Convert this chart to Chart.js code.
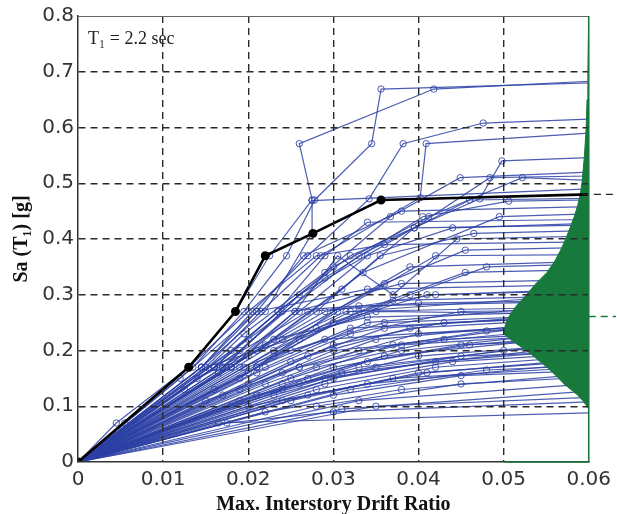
<!DOCTYPE html>
<html>
<head>
<meta charset="utf-8">
<title>IDA curves</title>
<script src="https://cdn.jsdelivr.net/npm/chart.js@4.4.0/dist/chart.umd.min.js"></script>
<style>
  html, body { margin: 0; padding: 0; background: #fff; }
</style>
</head>
<body>
<canvas id="idaChart" width="617" height="514"></canvas>
<script>
// ---------------- Data ----------------
const driftTicks = [0, 0.01, 0.02, 0.03, 0.04, 0.05, 0.06];
const saTicks = [0, 0.1, 0.2, 0.3, 0.4, 0.5, 0.6, 0.7, 0.8];
const noteText = "T\u2081 = 2.2 sec";

// IDA curves, [drift, Sa] per point (last point = flatline at the right edge)
const idaCurves = [
  [[0,0],[0.0045,0.07],[0.013,0.17],[0.0185,0.27],[0.0225,0.37],[0.0275,0.47],[0.026,0.571],[0.0418,0.669],[0.06,0.683]],
  [[0,0],[0.0055,0.07],[0.0135,0.17],[0.0195,0.27],[0.0245,0.37],[0.0278,0.47],[0.0345,0.571],[0.0356,0.669],[0.06,0.68]],
  [[0,0],[0.0145,0.17],[0.0205,0.27],[0.027,0.37],[0.0342,0.472],[0.0382,0.571],[0.0476,0.608],[0.06,0.615]],
  [[0,0],[0.015,0.17],[0.0215,0.27],[0.0285,0.37],[0.0402,0.474],[0.0409,0.571],[0.06,0.59]],
  [[0,0],[0.016,0.17],[0.0235,0.27],[0.032,0.37],[0.0472,0.472],[0.0498,0.54],[0.06,0.546]],
  [[0,0],[0.0125,0.13],[0.0195,0.23],[0.029,0.34],[0.0367,0.44],[0.0449,0.51],[0.06,0.52]],
  [[0,0],[0.0165,0.16],[0.026,0.3],[0.0395,0.42],[0.0484,0.51],[0.06,0.513]],
  [[0,0],[0.018,0.2],[0.03,0.35],[0.0412,0.44],[0.0522,0.51],[0.06,0.505]],
  [[0,0],[0.02,0.22],[0.033,0.37],[0.046,0.47],[0.06,0.473]],
  [[0,0],[0.019,0.2],[0.029,0.33],[0.0405,0.44],[0.0506,0.468],[0.06,0.47]],
  [[0,0],[0.0145,0.17],[0.022,0.27],[0.0275,0.41],[0.0275,0.469],[0.06,0.49]],
  [[0,0],[0.021,0.2],[0.0335,0.34],[0.0495,0.44],[0.06,0.445]],
  [[0,0],[0.022,0.21],[0.031,0.31],[0.0395,0.42],[0.06,0.425]],
  [[0,0],[0.018,0.17],[0.028,0.27],[0.0355,0.37],[0.0465,0.41],[0.06,0.415]],
  [[0,0],[0.024,0.22],[0.036,0.32],[0.0455,0.38],[0.06,0.385]],
  [[0,0],[0.0195,0.17],[0.0305,0.27],[0.042,0.37],[0.06,0.372]],
  [[0,0],[0.026,0.22],[0.039,0.3],[0.048,0.35],[0.06,0.355]],
  [[0,0],[0.023,0.19],[0.033,0.27],[0.0455,0.34],[0.06,0.345]],
  [[0,0],[0.0175,0.17],[0.0255,0.27],[0.0305,0.37],[0.037,0.3],[0.0445,0.4],[0.06,0.405]],
  [[0,0],[0.016,0.17],[0.0235,0.27],[0.029,0.37],[0.034,0.43],[0.06,0.435]],
  [[0,0],[0.0145,0.17],[0.021,0.27],[0.0265,0.37],[0.038,0.45],[0.06,0.458]],
  [[0,0],[0.018,0.17],[0.0255,0.27],[0.038,0.32],[0.06,0.327]],
  [[0,0],[0.012,0.15],[0.021,0.27],[0.034,0.31],[0.06,0.318]],
  [[0,0],[0.02,0.16],[0.03,0.25],[0.041,0.3],[0.06,0.307]],
  [[0,0],[0.019,0.15],[0.028,0.24],[0.037,0.29],[0.06,0.298]],
  [[0,0],[0.016,0.17],[0.027,0.27],[0.04,0.285],[0.06,0.29]],
  [[0,0],[0.022,0.17],[0.034,0.25],[0.06,0.283]],
  [[0,0],[0.017,0.17],[0.0315,0.27],[0.06,0.278]],
  [[0,0],[0.021,0.16],[0.032,0.23],[0.045,0.27],[0.06,0.273]],
  [[0,0],[0.025,0.18],[0.036,0.24],[0.06,0.268]],
  [[0,0],[0.015,0.17],[0.035,0.27],[0.06,0.265]],
  [[0,0],[0.02,0.14],[0.03,0.21],[0.043,0.25],[0.06,0.26]],
  [[0,0],[0.024,0.16],[0.035,0.22],[0.06,0.255]],
  [[0,0],[0.019,0.17],[0.029,0.22],[0.06,0.25]],
  [[0,0],[0.026,0.17],[0.04,0.23],[0.06,0.245]],
  [[0,0],[0.022,0.14],[0.033,0.2],[0.048,0.235],[0.06,0.24]],
  [[0,0],[0.028,0.17],[0.043,0.22],[0.06,0.233]],
  [[0,0],[0.024,0.14],[0.036,0.19],[0.06,0.227]],
  [[0,0],[0.03,0.17],[0.045,0.21],[0.06,0.22]],
  [[0,0],[0.026,0.14],[0.04,0.19],[0.06,0.213]],
  [[0,0],[0.023,0.12],[0.035,0.17],[0.05,0.2],[0.06,0.206]],
  [[0,0],[0.03,0.15],[0.045,0.19],[0.06,0.198]],
  [[0,0],[0.028,0.13],[0.042,0.17],[0.06,0.19]],
  [[0,0],[0.025,0.11],[0.04,0.16],[0.06,0.182]],
  [[0,0],[0.032,0.13],[0.048,0.165],[0.06,0.173]],
  [[0,0],[0.03,0.12],[0.045,0.155],[0.06,0.164]],
  [[0,0],[0.028,0.1],[0.045,0.14],[0.06,0.152]],
  [[0,0],[0.033,0.11],[0.06,0.14]],
  [[0,0],[0.031,0.095],[0.06,0.127]],
  [[0,0],[0.035,0.1],[0.06,0.116]],
  [[0,0],[0.0175,0.07],[0.03,0.09],[0.06,0.108]],
  [[0,0],[0.0165,0.07],[0.06,0.088]],
  [[0,0],[0.024,0.13],[0.034,0.18],[0.046,0.21],[0.06,0.228]],
  [[0,0],[0.027,0.15],[0.038,0.2],[0.06,0.236]],
  [[0,0],[0.021,0.17],[0.032,0.24],[0.06,0.262]],
  [[0,0],[0.017,0.12],[0.027,0.19],[0.039,0.24],[0.06,0.258]],
  [[0,0],[0.019,0.13],[0.03,0.2],[0.06,0.243]],
  [[0,0],[0.015,0.11],[0.026,0.17],[0.038,0.21],[0.06,0.231]],
  [[0,0],[0.021,0.12],[0.033,0.17],[0.06,0.216]],
  [[0,0],[0.018,0.1],[0.029,0.15],[0.042,0.18],[0.06,0.202]],
  [[0,0],[0.02,0.1],[0.034,0.14],[0.06,0.178]],
  [[0,0],[0.022,0.09],[0.038,0.13],[0.06,0.158]],
  [[0,0],[0.017,0.17],[0.024,0.27],[0.033,0.28],[0.06,0.288]],
  [[0,0],[0.014,0.15],[0.023,0.22],[0.034,0.26],[0.06,0.27]],
  [[0,0],[0.02,0.19],[0.029,0.27],[0.042,0.3],[0.06,0.31]],
  [[0,0],[0.023,0.2],[0.032,0.27],[0.06,0.3]],
  [[0,0],[0.025,0.15],[0.037,0.21],[0.052,0.24],[0.06,0.242]],
  [[0,0],[0.027,0.12],[0.041,0.16],[0.06,0.185]],
  [[0,0],[0.029,0.14],[0.044,0.18],[0.06,0.195]],
  [[0,0],[0.019,0.11],[0.031,0.16],[0.06,0.21]],
  [[0,0],[0.016,0.13],[0.025,0.2],[0.036,0.25],[0.06,0.265]],
  [[0,0],[0.024,0.11],[0.037,0.15],[0.06,0.17]],
  [[0,0],[0.013,0.17],[0.02,0.27],[0.028,0.37],[0.036,0.39],[0.06,0.395]],
  [[0,0],[0.018,0.17],[0.026,0.27],[0.034,0.37],[0.044,0.42],[0.06,0.428]],
  [[0,0],[0.021,0.17],[0.03,0.27],[0.039,0.35],[0.06,0.36]],
];

// median IDA curve (black)
const medianDrift = [0, 0.013, 0.0185, 0.022, 0.0276, 0.0356, 0.06];
const medianSa = [0, 0.17, 0.27, 0.37, 0.41, 0.47, 0.48];

// collapse capacity distribution, drawn sideways from the right edge
const pdfSa = [0.095, 0.1, 0.11, 0.12, 0.13, 0.14, 0.15, 0.16, 0.17, 0.18, 0.19, 0.2, 0.21, 0.22, 0.23, 0.24,
  0.25, 0.26, 0.27, 0.28, 0.29, 0.3, 0.32, 0.34, 0.36, 0.38, 0.4, 0.42, 0.44, 0.46, 0.48, 0.5, 0.55, 0.6,
  0.65, 0.7, 0.8];
const pdfDrift = [0.06, 0.0598, 0.0593, 0.0587, 0.0579, 0.0571, 0.0565, 0.0558, 0.0551, 0.0543, 0.0535, 0.0527,
  0.0517, 0.0508, 0.05, 0.0501, 0.0503, 0.0506, 0.051, 0.0515, 0.0521, 0.0527, 0.0538, 0.0551, 0.056, 0.0567,
  0.0573, 0.0578, 0.0583, 0.0587, 0.059, 0.0592, 0.0595, 0.0597, 0.0598, 0.0599, 0.06];
const pdfEdge = [[0.05, 0], [0.06, 0], [0.06, 0.8]];

// short dashed markers past the right edge
const medianCap = [[0.0592, 0.48], [0.0632, 0.48]];
const pdfMedianCap = [[0.06, 0.261], [0.0632, 0.261]];

// ---------------- Styles ----------------
const blue = "rgba(45, 65, 165, 0.85)";
const green = "#177a3c";
const tickFont = { family: "DejaVu Sans", size: 20 };
const titleFont = { family: "Liberation Serif", size: 20, weight: "bold" };

const toXY = (pairs) => pairs.map((p) => ({ x: p[0], y: p[1] }));

// ---------------- Datasets ----------------
const curveSets = idaCurves.map((pts) => ({
  data: toXY(pts),
  borderColor: blue,
  borderWidth: 1.2,
  pointRadius: (c) => (c.raw && c.raw.x >= 0.06 ? 0 : 3.2),
  pointBorderColor: blue,
  pointBorderWidth: 1,
  pointBackgroundColor: "rgba(0,0,0,0)",
  fill: false,
  order: 4,
}));

const datasets = [
  {
    data: toXY(medianCap),
    borderColor: "#222",
    borderWidth: 1.4,
    borderDash: [7, 5],
    pointRadius: 0,
    fill: false,
    clip: false,
    order: 0,
  },
  {
    data: toXY(pdfMedianCap),
    borderColor: green,
    borderWidth: 1.4,
    borderDash: [7, 5],
    pointRadius: 0,
    fill: false,
    clip: false,
    order: 0,
  },
  {
    data: medianDrift.map((d, i) => ({ x: d, y: medianSa[i] })),
    borderColor: "#000",
    borderWidth: 2.6,
    pointRadius: (c) => (c.raw && c.raw.x >= 0.06 ? 0 : 3.2),
    pointBackgroundColor: "#000",
    pointBorderColor: "#000",
    fill: false,
    order: 1,
  },
  {
    indexAxis: "y",
    data: pdfSa.map((s, i) => ({ x: pdfDrift[i], y: s })),
    borderColor: green,
    borderWidth: 1,
    backgroundColor: green,
    fill: { value: 0.06 },
    pointRadius: 0,
    order: 3,
  },
].concat(curveSets);

// ---------------- Plugins ----------------
// top frame line, green edge of the distribution, and the period note
const frameAndNote = {
  id: "frameAndNote",
  afterDraw(chart) {
    const { ctx, chartArea, scales } = chart;
    ctx.save();
    ctx.strokeStyle = "#666";
    ctx.lineWidth = 1;
    ctx.beginPath();
    ctx.moveTo(chartArea.left, chartArea.top + 0.5);
    ctx.lineTo(chartArea.right, chartArea.top + 0.5);
    ctx.stroke();

    ctx.strokeStyle = green;
    ctx.lineWidth = 1.6;
    ctx.beginPath();
    pdfEdge.forEach((p, i) => {
      const px = scales.x.getPixelForValue(p[0]);
      const py = scales.y.getPixelForValue(p[1]);
      if (i === 0) ctx.moveTo(px, py);
      else ctx.lineTo(px, py);
    });
    ctx.stroke();

    ctx.fillStyle = "#222";
    ctx.font = '18px "Liberation Serif"';
    ctx.textBaseline = "alphabetic";
    ctx.fillText(noteText, chartArea.left + 10, chartArea.top + 28);
    ctx.restore();
  },
};

const gridColor = (edgeValues) => (c) =>
  c.tick && edgeValues.includes(c.tick.value) ? "rgba(0,0,0,0)" : "#2a2a2a";

// ---------------- Chart ----------------
new Chart(document.getElementById("idaChart").getContext("2d"), {
  type: "line",
  data: { datasets: datasets },
  plugins: [frameAndNote],
  options: {
    responsive: false,
    animation: false,
    layout: { padding: { top: 15, right: 26, left: 0, bottom: 0 } },
    plugins: {
      legend: { display: false },
      tooltip: { enabled: false },
    },
    scales: {
      x: {
        type: "linear",
        min: 0,
        max: 0.06,
        afterBuildTicks: (s) => {
          s.ticks = driftTicks.map((v) => ({ value: v }));
        },
        afterFit: (s) => {
          s.height = 52;
        },
        ticks: {
          font: tickFont,
          color: "#333",
          padding: 6,
          maxRotation: 0,
          autoSkip: false,
          callback: (v) => String(+Number(v).toFixed(2)),
        },
        grid: { z: 1, drawTicks: false, lineWidth: 1.4, color: gridColor([0, 0.06]) },
        border: { z: 1, color: "#333", width: 1.5, dash: [7, 5] },
        title: {
          display: true,
          text: "Max. Interstory Drift Ratio",
          font: titleFont,
          color: "#111",
          padding: { top: 0, bottom: -3 },
        },
      },
      y: {
        type: "linear",
        min: 0,
        max: 0.8,
        afterBuildTicks: (s) => {
          s.ticks = saTicks.map((v) => ({ value: v }));
        },
        afterFit: (s) => {
          s.width = 78;
        },
        ticks: {
          font: tickFont,
          color: "#333",
          padding: 4,
          callback: (v) => String(+Number(v).toFixed(1)),
        },
        grid: { z: 1, drawTicks: false, lineWidth: 1.4, color: gridColor([0, 0.8]) },
        border: { z: 1, color: "#333", width: 1.5, dash: [7, 5] },
        title: {
          display: true,
          text: "Sa (T\u2081) [g]",
          font: titleFont,
          color: "#111",
          padding: { top: 10, bottom: 0 },
        },
      },
    },
  },
});
</script>
</body>
</html>
